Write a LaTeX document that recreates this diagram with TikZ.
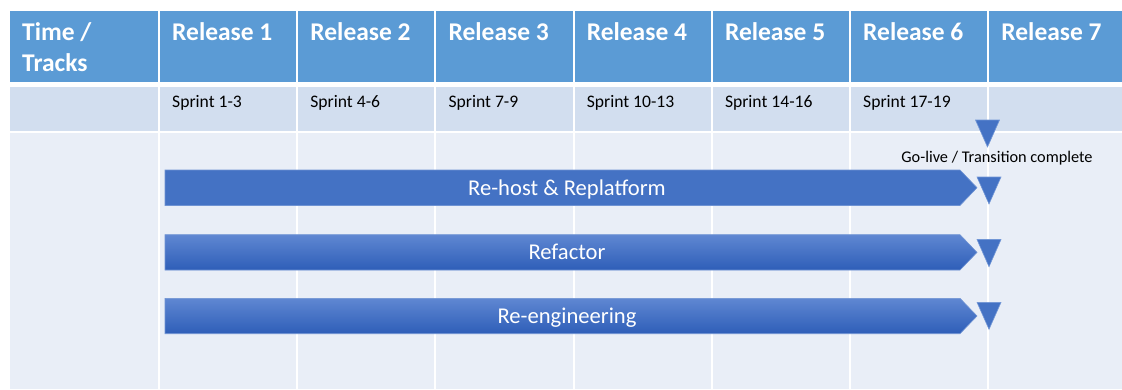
\documentclass[tikz,border=0pt]{standalone}
\usepackage{fontspec}
\setmainfont{Carlito}
\begin{document}
\begin{tikzpicture}[x=1pt,y=-1pt,
  headtext/.style={anchor=base west,inner sep=0pt,text=white,font=\bfseries\fontsize{25.5}{31}\selectfont},
  sprinttext/.style={anchor=base west,inner sep=0pt,text=black,font=\fontsize{17.6}{21}\selectfont},
  bartext/.style={inner sep=0pt,text=white,font=\fontsize{22.6}{26}\selectfont},
  gridline/.style={draw=white,line width=2pt},
  marker/.style={fill=markblue,draw=markedge,line width=0.6pt,line join=miter},
  barline/.style={draw=baredge,line width=0.6pt},
]
\definecolor{headblue}{HTML}{5B9BD5}
\definecolor{rowtwo}{HTML}{D2DEEF}
\definecolor{rowthree}{HTML}{E9EEF7}
\definecolor{barblue}{HTML}{4472C4}
\definecolor{baredge}{HTML}{6F93D3}
\definecolor{bartop}{HTML}{5F87D2}
\definecolor{barbot}{HTML}{2E5EB8}
\definecolor{markblue}{HTML}{4472C4}
\definecolor{markedge}{HTML}{7196D6}

\useasboundingbox (0,0) rectangle (1122,389);
\fill[white] (0,0) rectangle (1122,389);

% table rows
\fill[headblue] (10,11) rectangle (1122,82);
\fill[rowtwo] (10,87) rectangle (1122,131);
\fill[rowthree] (10,133) rectangle (1122,389);

% column separators
\foreach \cx in {159,297.2,435.4,573.6,711.8,850,988.2}
  \draw[gridline] (\cx,11) -- (\cx,389);

% header texts
\node[headtext] (h0a) at (22,40.7) {Time /};
\node[headtext] (h0b) at (22,71.7) {Tracks};
\foreach \i/\cx in {1/159,2/297.2,3/435.4,4/573.6,5/711.8,6/850,7/988.2}
  \node[headtext] (h\i) at (\cx+13,40.7) {Release \i};

% sprint texts
\foreach \i/\cx/\t in {1/159/{Sprint 1-3},2/297.2/{Sprint 4-6},3/435.4/{Sprint 7-9},4/573.6/{Sprint 10-13},5/711.8/{Sprint 14-16},6/850/{Sprint 17-19}}
  \node[sprinttext] (s\i) at (\cx+13,107.3) {\t};

% go-live marker
\draw[marker] (975.5,120) -- (999.5,120) -- (987.5,147) -- cycle;
\node[inner sep=0pt,anchor=base,text=black,font=\fontsize{16.3}{19}\selectfont] (golive) at (997,162) {Go-live / Transition complete};

% track bars
\filldraw[fill=barblue,barline] (165,170) -- (960,170) -- (977,187.7) -- (960,205.5) -- (165,205.5) -- cycle;
\shade[top color=bartop,bottom color=barbot] (165,234.7) -- (960,234.7) -- (977,252.4) -- (960,270) -- (165,270) -- cycle;
\draw[barline] (165,234.7) -- (960,234.7) -- (977,252.4) -- (960,270) -- (165,270) -- cycle;
\shade[top color=bartop,bottom color=barbot] (165,298.3) -- (960,298.3) -- (977,316) -- (960,333.7) -- (165,333.7) -- cycle;
\draw[barline] (165,298.3) -- (960,298.3) -- (977,316) -- (960,333.7) -- (165,333.7) -- cycle;

\node[bartext,anchor=base] (t1) at (567,195) {Re-host \& Replatform};
\node[bartext,anchor=base] (t2) at (567,259.5) {Refactor};
\node[bartext,anchor=base] (t3) at (567,323.5) {Re-engineering};

% completion markers at the end of each track
\draw[marker] (977,177) -- (1001,177) -- (989,204) -- cycle;
\draw[marker] (977,239.5) -- (1001,239.5) -- (989,266.7) -- cycle;
\draw[marker] (977,302.3) -- (1001,302.3) -- (989,329.3) -- cycle;
\end{tikzpicture}
\end{document}
